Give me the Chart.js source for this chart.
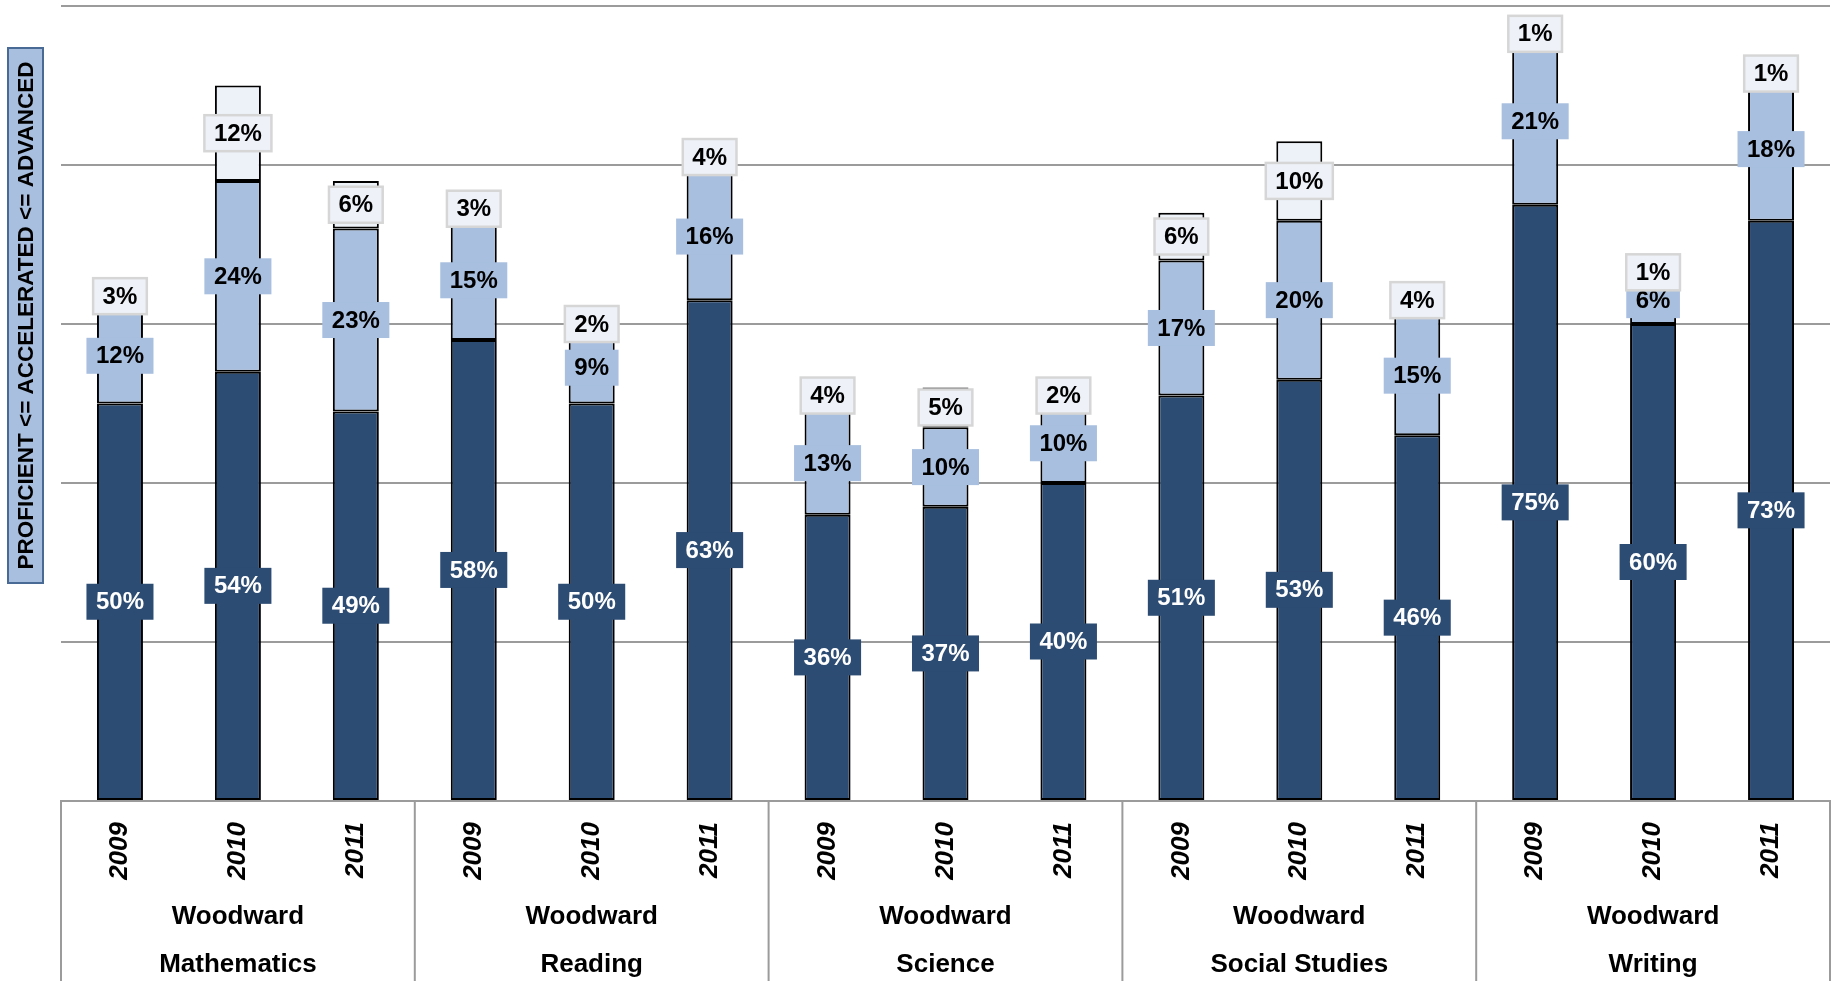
<!DOCTYPE html>
<html>
<head>
<meta charset="utf-8">
<script src="https://cdn.jsdelivr.net/npm/chart.js@4.4.1/dist/chart.umd.min.js"></script>
<style>
  html, body { margin: 0; padding: 0; background: #fff; }
  #wrap { width: 1834px; height: 981px; }
</style>
</head>
<body>
<div id="wrap"><canvas id="chart"></canvas></div>
<script>
// data
var years = ['2009', '2010', '2011', '2009', '2010', '2011', '2009', '2010', '2011',
             '2009', '2010', '2011', '2009', '2010', '2011'];
var subjects = ['Mathematics', 'Reading', 'Science', 'Social Studies', 'Writing'];
var school = 'Woodward';

var proficient  = [50, 54, 49, 58, 50, 63, 36, 37, 40, 51, 53, 46, 75, 60, 73];
var accelerated = [12, 24, 23, 15,  9, 16, 13, 10, 10, 17, 20, 15, 21,  6, 18];
var advanced    = [ 3, 12,  6,  3,  2,  4,  4,  5,  2,  6, 10,  4,  1,  1,  1];

var yTitle = 'PROFICIENT <= ACCELERATED <= ADVANCED';

var FONT = '"Liberation Sans", Arial, sans-serif';
var GRID = '#9b9b9b';

var labelStyles = [
  { bg: '#2d4c73', fg: '#ffffff', border: null },
  { bg: '#a8bfdf', fg: '#000000', border: null },
  { bg: '#eef2f8', fg: '#000000', border: '#d6d6d6' }
];

// value boxes centred on every segment
var segLabels = {
  id: 'segLabels',
  afterDatasetsDraw: function (chart) {
    var ctx = chart.ctx;
    ctx.save();
    ctx.font = 'bold 24px ' + FONT;
    ctx.textAlign = 'center';
    ctx.textBaseline = 'middle';
    chart.data.datasets.forEach(function (ds, i) {
      var st = labelStyles[i];
      chart.getDatasetMeta(i).data.forEach(function (bar, j) {
        var txt = ds.data[j] + '%';
        var cy = (bar.y + bar.base) / 2;
        var w = ctx.measureText(txt).width + 19, h = 36;
        ctx.fillStyle = st.bg;
        ctx.fillRect(bar.x - w / 2, cy - h / 2, w, h);
        if (st.border) {
          ctx.strokeStyle = st.border;
          ctx.lineWidth = 2.5;
          ctx.strokeRect(bar.x - w / 2, cy - h / 2, w, h);
        }
        ctx.fillStyle = st.fg;
        ctx.fillText(txt, bar.x, cy + 1);
      });
    });
    ctx.restore();
  }
};

// category table lines under the plot + boxed y title
var frame = {
  id: 'frame',
  afterDraw: function (chart) {
    var ctx = chart.ctx, a = chart.chartArea, x = chart.scales.x;
    ctx.save();
    ctx.strokeStyle = GRID;
    ctx.lineWidth = 2;
    var edges = [a.left];
    for (var g = 1; g < subjects.length; g++) {
      var i = g * 3;
      edges.push((x.getPixelForValue(i - 1) + x.getPixelForValue(i)) / 2);
    }
    edges.push(a.right);
    edges.forEach(function (px) {
      ctx.beginPath();
      ctx.moveTo(px, a.bottom);
      ctx.lineTo(px, chart.height);
      ctx.stroke();
    });

    // y title box
    var bx = 8, bw = 35, by = 48, bh = 535;
    ctx.fillStyle = '#a8bfdf';
    ctx.fillRect(bx, by, bw, bh);
    ctx.strokeStyle = '#4a6a96';
    ctx.lineWidth = 2;
    ctx.strokeRect(bx, by, bw, bh);
    ctx.translate(bx + bw / 2, by + bh / 2);
    ctx.rotate(-Math.PI / 2);
    ctx.fillStyle = '#000';
    ctx.font = 'bold 22.5px ' + FONT;
    ctx.textAlign = 'center';
    ctx.textBaseline = 'middle';
    ctx.fillText(yTitle, 0, 1);
    ctx.restore();
  }
};

var groupLabels = subjects.map(function (s) { return [school, s]; });

var barStyle = { borderColor: '#000', borderWidth: 2, borderSkipped: false,
                 barPercentage: 0.39, categoryPercentage: 1 };

new Chart(document.getElementById('chart'), {
  type: 'bar',
  data: {
    labels: years,
    datasets: [
      Object.assign({ label: 'Proficient', data: proficient, backgroundColor: '#2d4c73' }, barStyle),
      Object.assign({ label: 'Accelerated', data: accelerated, backgroundColor: '#a8bfdf' }, barStyle),
      Object.assign({ label: 'Advanced', data: advanced, backgroundColor: '#edf2f9' }, barStyle)
    ]
  },
  options: {
    responsive: true,
    maintainAspectRatio: false,
    animation: false,
    layout: { padding: { top: 6, right: 4, left: 0, bottom: 0 } },
    plugins: { legend: { display: false }, tooltip: { enabled: false } },
    scales: {
      x: {
        stacked: true,
        position: 'bottom',
        grid: { display: false, drawTicks: false },
        border: { display: true, color: GRID, width: 2 },
        ticks: {
          autoSkip: false, minRotation: 90, maxRotation: 90, padding: 21,
          color: '#000', font: { family: FONT, size: 26, weight: 'bold', style: 'italic' }
        },
        afterFit: function (s) { s.height = 92; }
      },
      x2: {
        type: 'category',
        labels: groupLabels,
        position: 'bottom',
        offset: true,
        grid: { display: false, drawTicks: false },
        border: { display: false },
        ticks: {
          autoSkip: false, maxRotation: 0, padding: 0,
          color: '#000', font: { family: FONT, size: 26, weight: 'bold', lineHeight: '48px' }
        },
        afterFit: function (s) { s.height = 88; }
      },
      y: {
        stacked: true,
        min: 0,
        max: 100,
        ticks: { display: false, stepSize: 20 },
        grid: { color: GRID, lineWidth: 2, drawTicks: false },
        border: { display: false },
        afterFit: function (s) { s.width = 61; }
      }
    }
  },
  plugins: [segLabels, frame]
});
</script>
</body>
</html>
